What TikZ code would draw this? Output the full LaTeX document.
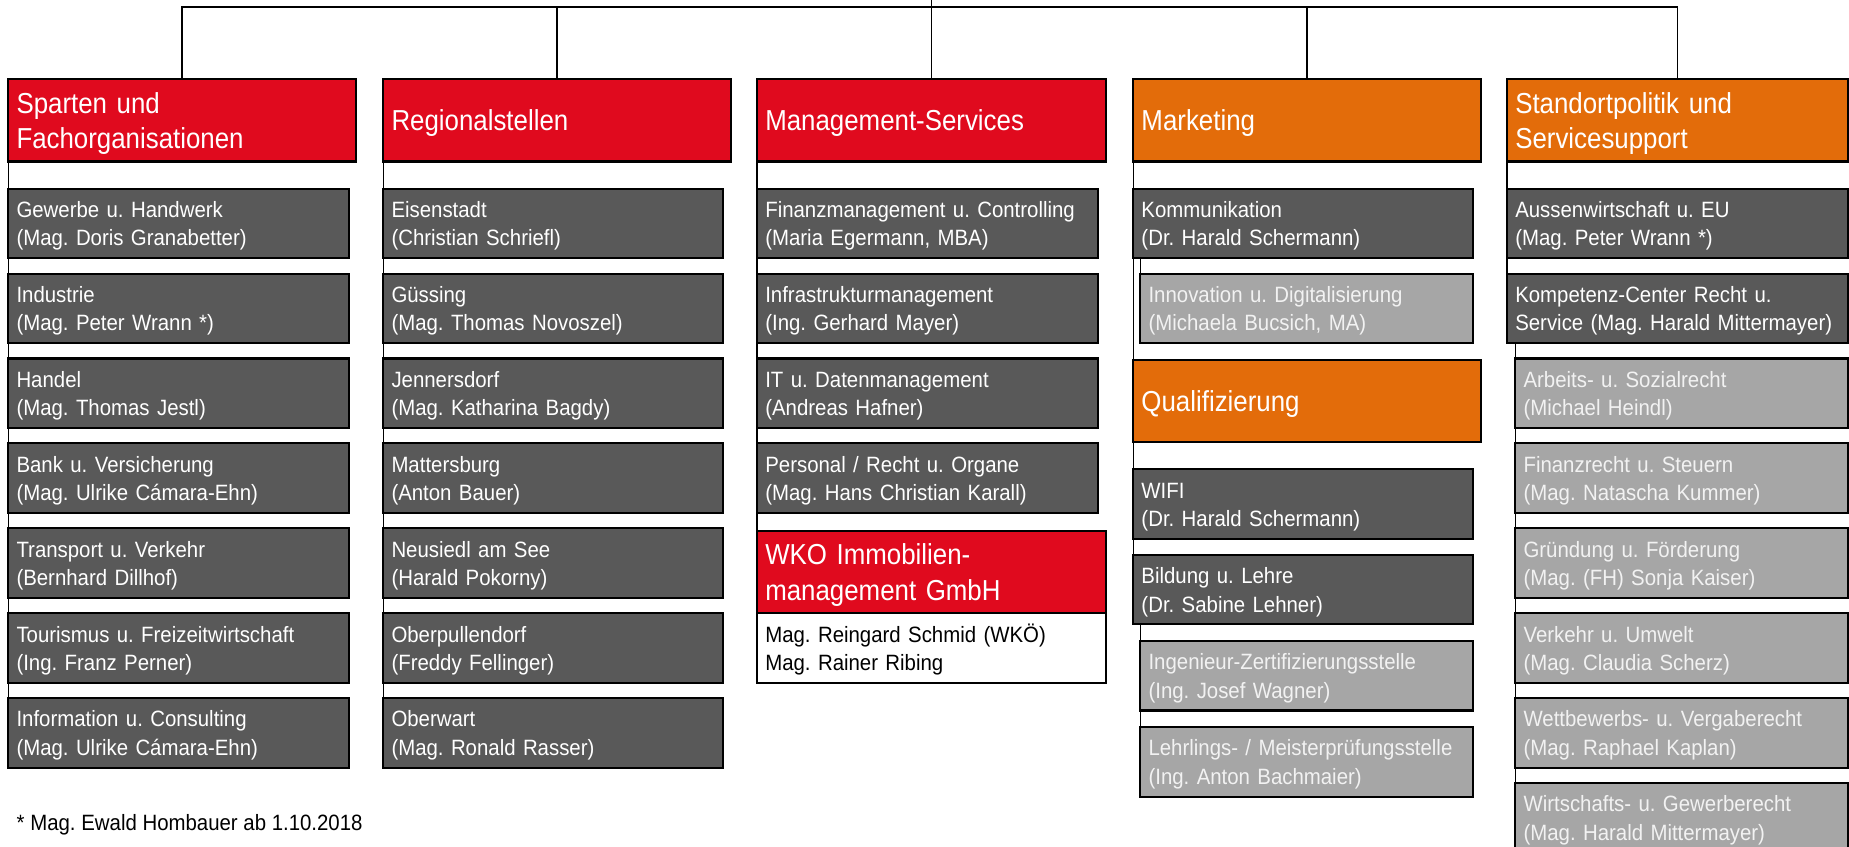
\documentclass[tikz,border=0pt]{standalone}
\usepackage{fontspec}
\setmainfont{Liberation Sans}[FakeStretch=0.92]
\newfontfamily\hdrfont{Liberation Sans}[FakeStretch=0.895]
\frenchspacing
\hyphenpenalty=10000
\exhyphenpenalty=10000
\definecolor{wkred}{RGB}{224,10,30}
\definecolor{wkorange}{RGB}{227,108,10}
\definecolor{dgray}{RGB}{89,89,89}
\definecolor{lgray}{RGB}{166,166,166}
\definecolor{ltext}{RGB}{242,242,242}
\tikzset{
  basebox/.style={rectangle, draw=black, line width=1.8pt, outer sep=0pt, anchor=north west,
    align=left, inner xsep=7pt, inner ysep=0pt},
  hdr/.style={basebox, font=\hdrfont\fontsize{24.5}{30.3}\selectfont, text=white, minimum height=70pt,
    execute at begin node={\rule{0pt}{24pt}}, execute at end node={\rule[-6pt]{0pt}{6pt}}},
  redhdr/.style={hdr, fill=wkred},
  orghdr/.style={hdr, fill=wkorange},
  subbox/.style={basebox, font=\fontsize{18.8}{24}\selectfont, minimum height=59pt,
    execute at begin node={\rule{0pt}{19pt}}, execute at end node={\rule[-5pt]{0pt}{5pt}}},
  dark/.style={subbox, fill=dgray, text=white},
  light/.style={subbox, fill=lgray, text=ltext},
  plainbox/.style={subbox, fill=white, text=black},
  conn/.style={draw=black, line width=1.2pt},
}
\begin{document}
\begin{tikzpicture}[x=1pt,y=-1pt]
\useasboundingbox (0,0) rectangle (1568,718);
% headers
\node[redhdr, text width=281pt] (h1) at (7,67) {Sparten und\\Fachorganisationen};
\node[redhdr, text width=281pt] (h2) at (325,67) {Regionalstellen};
\node[redhdr, text width=282pt] (h3) at (642,67) {Management-Services};
\node[orghdr, text width=281pt] (h4) at (961,67) {Marketing};
\node[orghdr, text width=275pt] (h5) at (1278,67) {Standortpolitik und\\Servicesupport};
% column 1
\node[dark, text width=275pt] (a1) at (7,160) {Gewerbe u. Handwerk\\(Mag. Doris Granabetter)};
\node[dark, text width=275pt] (a2) at (7,232) {Industrie\\(Mag. Peter Wrann *)};
\node[dark, text width=275pt] (a3) at (7,304) {Handel\\(Mag. Thomas Jestl)};
\node[dark, text width=275pt] (a4) at (7,376) {Bank u. Versicherung\\(Mag. Ulrike Cámara-Ehn)};
\node[dark, text width=275pt] (a5) at (7,448) {Transport u. Verkehr\\(Bernhard Dillhof)};
\node[dark, text width=275pt] (a6) at (7,520) {Tourismus u. Freizeitwirtschaft\\(Ing. Franz Perner)};
\node[dark, text width=275pt] (a7) at (7,592) {Information u. Consulting\\(Mag. Ulrike Cámara-Ehn)};
% column 2
\node[dark, text width=274pt] (b1) at (325,160) {Eisenstadt\\(Christian Schriefl)};
\node[dark, text width=274pt] (b2) at (325,232) {Güssing\\(Mag. Thomas Novoszel)};
\node[dark, text width=274pt] (b3) at (325,304) {Jennersdorf\\(Mag. Katharina Bagdy)};
\node[dark, text width=274pt] (b4) at (325,376) {Mattersburg\\(Anton Bauer)};
\node[dark, text width=274pt] (b5) at (325,448) {Neusiedl am See\\(Harald Pokorny)};
\node[dark, text width=274pt] (b6) at (325,520) {Oberpullendorf\\(Freddy Fellinger)};
\node[dark, text width=274pt] (b7) at (325,592) {Oberwart\\(Mag. Ronald Rasser)};
% column 3
\node[dark, text width=275pt] (c1) at (642,160) {Finanzmanagement u. Controlling\\(Maria Egermann, MBA)};
\node[dark, text width=275pt] (c2) at (642,232) {Infrastrukturmanagement\\(Ing. Gerhard Mayer)};
\node[dark, text width=275pt] (c3) at (642,304) {IT u. Datenmanagement\\(Andreas Hafner)};
\node[dark, text width=275pt] (c4) at (642,376) {Personal / Recht u. Organe\\(Mag. Hans Christian Karall)};
\node[redhdr, text width=282pt] (c5) at (642,450) {WKO Immobilien-\\management GmbH};
\node[plainbox, text width=282pt] (c6) at (642,520) {Mag. Reingard Schmid (WKÖ)\\Mag. Rainer Ribing};
% column 4
\node[dark, text width=274pt] (d1) at (961,160) {Kommunikation\\(Dr. Harald Schermann)};
\node[light, text width=268pt] (d2) at (967,232) {Innovation u. Digitalisierung\\(Michaela Bucsich, MA)};
\node[orghdr, text width=281pt] (d3) at (961,305) {Qualifizierung};
\node[dark, text width=274pt] (d4) at (961,398) {WIFI\\(Dr. Harald Schermann)};
\node[dark, text width=274pt] (d5) at (961,470.5) {Bildung u. Lehre\\(Dr. Sabine Lehner)};
\node[light, text width=268pt] (d6) at (967,543.5) {Ingenieur-Zertifizierungsstelle\\(Ing. Josef Wagner)};
\node[light, text width=268pt] (d7) at (967,616.5) {Lehrlings- / Meisterprüfungsstelle\\(Ing. Anton Bachmaier)};
% column 5
\node[dark, text width=275pt] (e1) at (1278,160) {Aussenwirtschaft u. EU\\(Mag. Peter Wrann *)};
\node[dark, text width=275pt] (e2) at (1278,232) {Kompetenz-Center Recht u.\\Service (Mag. Harald Mittermayer)};
\node[light, text width=268pt] (e3) at (1285,304) {Arbeits- u. Sozialrecht\\(Michael Heindl)};
\node[light, text width=268pt] (e4) at (1285,376) {Finanzrecht u. Steuern\\(Mag. Natascha Kummer)};
\node[light, text width=268pt] (e5) at (1285,448) {Gründung u. Förderung\\(Mag. (FH) Sonja Kaiser)};
\node[light, text width=268pt] (e6) at (1285,520) {Verkehr u. Umwelt\\(Mag. Claudia Scherz)};
\node[light, text width=268pt] (e7) at (1285,592) {Wettbewerbs- u. Vergaberecht\\(Mag. Raphael Kaplan)};
\node[light, text width=268pt] (e8) at (1285,664) {Wirtschafts- u. Gewerberecht\\(Mag. Harald Mittermayer)};
% footnote
\node[font=\fontsize{18.8}{24}\selectfont, anchor=base west, inner sep=0pt] (note) at (14,704) {* Mag. Ewald Hombauer ab 1.10.2018};
% connectors
\coordinate (top) at (790,0);
\coordinate (bar) at (790,6);
\draw[conn] (top) -- (h3.north);
\draw[conn] (h1.north) |- (bar) -| (h5.north);
\draw[conn] (h2.north) -- (h2.north |- bar);
\draw[conn] (h4.north) -- (h4.north |- bar);
\draw[conn] (h1.south west) -- (a7.west);
\draw[conn] (h2.south west) -- (b7.west);
\draw[conn] (h3.south west) -- (c5.north west);
\draw[conn] (h4.south west) -- (d3.north west);
\draw[conn] (d1.south west -| d2.west) -- (d2.west);
\draw[conn] (d3.south west) -- (d5.west);
\draw[conn] (d5.south west -| d7.west) -- (d7.west);
\draw[conn] (h5.south west) -- (e2.west);
\draw[conn] (e2.south west -| e8.west) -- (e8.west);
\end{tikzpicture}
\end{document}
